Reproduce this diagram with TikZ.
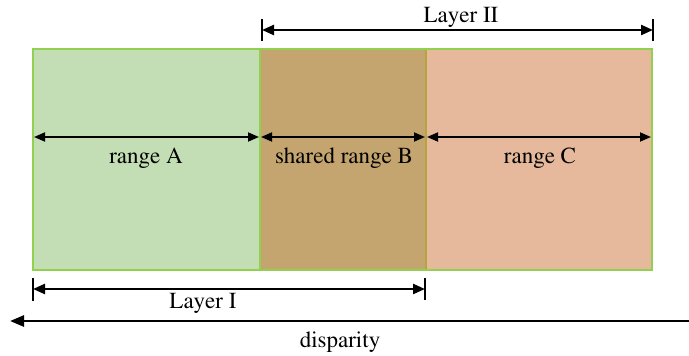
\documentclass[tikz,border=0pt]{standalone}
\usepackage[T1]{fontenc}
\renewcommand{\rmdefault}{ptm}
\usetikzlibrary{arrows.meta,calc}

\definecolor{zoneA}{HTML}{C3DDB4}
\definecolor{zoneB}{HTML}{C4A46F}
\definecolor{zoneC}{HTML}{E6B99C}
\definecolor{edgeGreen}{HTML}{92D050}
\definecolor{edgeOlive}{HTML}{B2A640}

\tikzset{
  zone/.style={draw=edgeGreen, line width=2.2pt},
  span/.style={line width=1.8pt, {Triangle[length=11pt,width=9pt]}-{Triangle[length=11pt,width=9pt]}},
  layerspan/.style={line width=2.3pt, {Triangle[length=12pt,width=10pt]}-{Triangle[length=12pt,width=10pt]}},
  tickbar/.style={line width=2.4pt},
  axis/.style={line width=2.6pt, {Triangle[length=14pt,width=11pt]}-},
  lbl/.style={font=\rmfamily\fontsize{23}{27}\selectfont, anchor=base, inner sep=0pt},
}

\begin{document}
\begin{tikzpicture}[x=1pt, y=-1pt]
  \useasboundingbox (0,0) rectangle (689,356);

  % coloured zones
  \fill[zoneA] (33,49) rectangle (260,270);
  \fill[zoneB] (260,49) rectangle (426,270);
  \fill[zoneC] (426,49) rectangle (652,270);
  \draw[edgeOlive, line width=2.2pt] (426,49) -- (426,270);
  \draw[edgeGreen, line width=2.2pt] (260,49) -- (260,270);
  \draw[zone] (33,49) rectangle (652,270);

  % range end points
  \coordinate (a0) at (34,137);
  \coordinate (a1) at (259,137);
  \coordinate (b0) at (261,137);
  \coordinate (b1) at (425,137);
  \coordinate (c0) at (427,137);
  \coordinate (c1) at (651,137);

  \draw[span] (a0) -- (a1);
  \draw[span] (b0) -- (b1);
  \draw[span] (c0) -- (c1);

  \node[lbl] (ra) at (146,163) {range A};
  \node[lbl] (rb) at (344,163) {shared range B};
  \node[lbl] (rc) at (540,163) {range C};

  % Layer II
  \coordinate (l2a) at (262,30);
  \coordinate (l2b) at (653,30);
  \draw[layerspan] (l2a) -- (l2b);
  \draw[tickbar] ($(l2a)+(0,-11)$) -- ($(l2a)+(0,11)$);
  \draw[tickbar] ($(l2b)+(0,-11)$) -- ($(l2b)+(0,11)$);
  \node[lbl] (l2) at (461,22) {Layer II};

  % Layer I
  \coordinate (l1a) at (33,289);
  \coordinate (l1b) at (425,289);
  \draw[layerspan] (l1a) -- (l1b);
  \draw[tickbar] ($(l1a)+(0,-11)$) -- ($(l1a)+(0,12)$);
  \draw[tickbar] ($(l1b)+(0,-11)$) -- ($(l1b)+(0,11)$);
  \node[lbl] (l1) at (203,308) {Layer I};

  % disparity axis
  \coordinate (d0) at (10,321);
  \coordinate (d1) at (689,321);
  \draw[axis] (d0) -- (d1);
  \node[lbl] (disp) at (340,347) {disparity};
\end{tikzpicture}
\end{document}
